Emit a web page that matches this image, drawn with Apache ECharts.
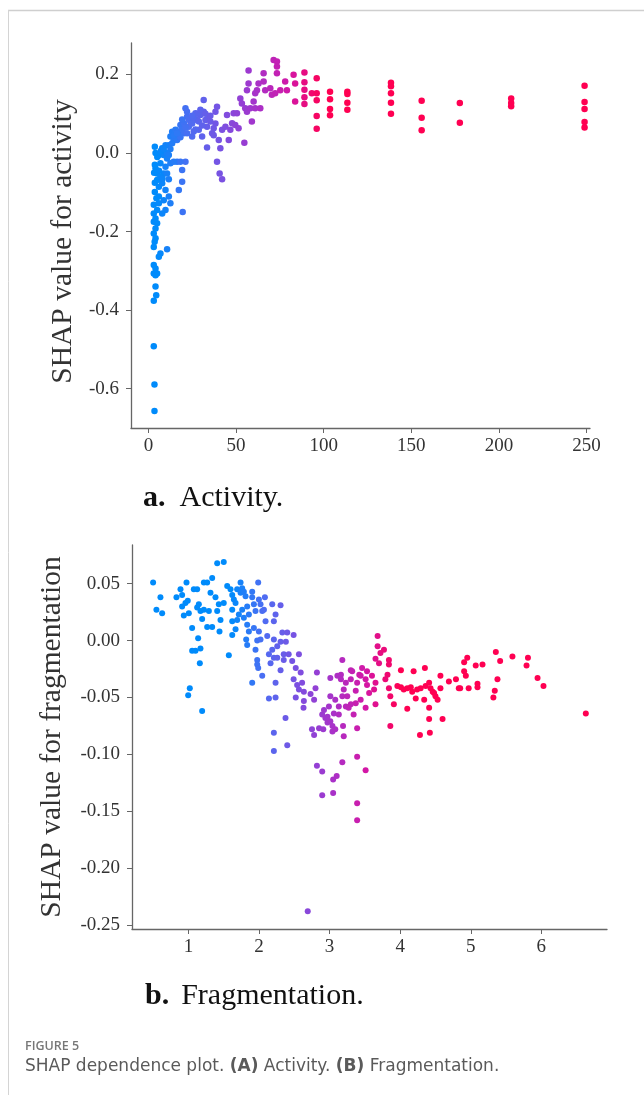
<!DOCTYPE html>
<html>
<head>
<meta charset="utf-8">
<script src="https://cdn.jsdelivr.net/npm/echarts@6/dist/echarts.min.js"></script>
<style>
html,body{margin:0;padding:0;background:#fff;}
#c{width:644px;height:1095px;}
</style>
</head>
<body>
<div id="c"></div>
<script>
// ---------- data ----------
// Panel a: [activity, SHAP value for activity]
const activityPoints = [
 [3.0,-0.132],[5.9,-0.128],[12.5,-0.128],[9.7,-0.145],[7.8,-0.154],[4.9,-0.145],[19.5,-0.15],[3.0,-0.154],
 [4.0,-0.167],[3.0,-0.175],[4.9,-0.179],[4.0,-0.192],[3.0,-0.205],[4.0,-0.217],[3.5,-0.226],[3.0,-0.239],
 [10.6,-0.245],[6.8,-0.256],[5.9,-0.264],[3.0,-0.285],[4.0,-0.294],[3.0,-0.307],[4.9,-0.307],[4.0,-0.311],
 [4.0,-0.34],[4.4,-0.362],[3.0,-0.376],[3.0,-0.492],[3.4,-0.589],[3.4,-0.657],
 [3.6,0.016],[7.8,0.012],[5.9,-0.005],[8.7,-0.005],[10.6,-0.014],[4.0,-0.039],[6.8,-0.026],[9.7,-0.035],
 [12.5,-0.026],[16.3,-0.022],[21.1,-0.022],[18.2,-0.022],[14.4,-0.022],[4.9,-0.052],[8.7,-0.052],[10.6,-0.052],
 [11.6,-0.067],[19.2,-0.043],[19.2,-0.073],[17.3,-0.094],[3.6,-0.076],[5.9,-0.086],[7.8,-0.077],[9.7,-0.094],
 [11.6,-0.111],[8.7,-0.12],[5.9,-0.111],[3.6,-0.099],[4.9,-0.069],[6.8,-0.06],[3.6,-0.03],[5.0,-0.01],
 [4.0,0.0],[7.0,0.005],[6.0,-0.045],[8.0,-0.065],[4.5,-0.115],[3.2,-0.05],
 [12.5,0.042],[13.5,0.054],[15.4,0.059],[14.4,0.033],[17.3,0.046],[16.3,0.033],[18.2,0.071],[20.2,0.076],
 [21.1,0.114],[22,0.092],[23,0.067],[23.9,0.08],[24.9,0.042],[26.8,0.101],[27.7,0.084],[28.7,0.059],
 [29.6,0.097],[30.6,0.042],[31.5,0.135],[31.5,0.105],[32.5,0.084],[33.4,0.067],[33.4,0.014],[34.4,0.092],
 [35.3,0.08],[36.3,0.05],[37.2,0.063],[38.2,0.105],[39.1,0.118],[40.1,0.033],[39.1,-0.022],[40.6,-0.052],
 [42,-0.067],[41,0.012],[42,0.059],[43.9,0.067],[44.8,0.097],[45.8,0.033],[47.7,0.076],[48.6,0.101],
 [50.5,0.101],[49.5,0.071],[51.4,0.063],[54.7,0.026],[46.7,0.059],[52.4,0.139],[53.3,0.126],[57.1,0.21],
 [57.1,0.177],[56.2,0.16],[55.2,0.114],[56.2,0.105],[58.1,0.114],[59,0.08],[60,0.131],[60.9,0.152],
 [60.9,0.114],[61.9,0.16],[62.8,0.177],[63.8,0.114],[65.7,0.182],[65.7,0.203],[66.6,0.16],[69.5,0.165],
 [70.4,0.148],[71.4,0.237],[73.3,0.233],[73.3,0.22],[73.3,0.203],[72.3,0.152],[75.2,0.16],[78,0.182],
 [79,0.16],[82.8,0.199],[83.7,0.177],[83.7,0.131],
 [11.6,0.02],[13.5,0.025],[15.4,0.04],[17.3,0.055],[19.2,0.06],[20.2,0.05],[21.1,0.065],[22,0.05],
 [23,0.085],[24.9,0.075],[25.8,0.09],[26.8,0.06],[27.7,0.1],[28.7,0.08],[30.6,0.07],[29.6,0.11],
 [25.8,0.055],[18.2,0.04],[14.4,0.045],[12.5,0.01],[10.6,0.0],[9.7,0.02],[8.7,0.01],[11.6,-0.005],
 [16.3,0.05],[19.2,0.085],[22,0.105],[24.9,0.095],[32.5,0.1],[35.3,0.095],[37.2,0.045],[38.2,0.075],
 [89,0.205],[89,0.18],[89,0.161],[89,0.142],[89,0.125],[93.2,0.152],[96,0.19],[96,0.152],
 [96,0.134],[96,0.094],[96,0.062],[103.6,0.156],[103.6,0.137],[103.6,0.112],[103.6,0.096],[113.5,0.156],
 [113.5,0.15],[113.5,0.128],[113.5,0.11],[138.4,0.179],[138.4,0.17],[138.4,0.152],[138.4,0.128],[138.4,0.1],
 [155.9,0.133],[155.9,0.09],[155.9,0.058],[177.7,0.127],[177.7,0.077],[207,0.139],[207,0.127],[207,0.119],
 [248.9,0.171],[248.9,0.13],[248.9,0.112],[248.9,0.079],[248.9,0.065]
];

// Panel b: [fragmentation, SHAP value for fragmentation]
const fragmentationPoints = [
 [0.499,0.051],[0.546,0.027],[0.603,0.038],[0.627,0.024],[0.83,0.038],[0.887,0.045],[0.91,0.04],[0.972,0.051],
 [0.91,0.03],[0.934,0.022],[0.957,0.033],[0.99,0.035],[1.005,0.024],[1.052,0.011],[1.076,0.045],[1.123,0.045],
 [1.123,0.029],[1.147,0.032],[1.17,0.026],[1.194,0.019],[1.218,0.051],[1.265,0.051],[1.336,0.055],[1.218,0.027],
 [1.289,0.026],[1.312,0.042],[1.265,0.012],[1.336,0.012],[1.407,0.068],[1.5,0.069],[1.383,0.038],[1.43,0.032],
 [1.407,0.026],[1.454,0.018],[1.44,0.008],[1.5,0.033],[1.549,0.048],[1.596,0.045],[1.572,-0.013],[1.052,-0.009],
 [1.1,-0.009],[1.137,0.002],[1.17,-0.007],[1.161,-0.02],[1.019,-0.042],[0.996,-0.048],[1.194,-0.062],[1.62,0.04],
 [1.643,0.036],[1.667,0.033],[1.62,0.027],[1.62,0.017],[1.667,0.01],[1.62,0.005],[1.69,0.045],[1.738,0.051],
 [1.761,0.046],[1.738,0.042],[1.785,0.043],[1.809,0.039],[1.832,0.03],[1.761,0.027],[1.714,0.023],[1.785,0.02],
 [1.856,0.023],[1.69,0.018],[1.832,0.014],[1.903,0.043],[1.903,0.038],[1.927,0.032],[1.95,0.026],[1.856,0.008],
 [1.818,0.001],[1.832,-0.004],[1.988,0.051],[1.927,0.011],[1.998,0.008],[1.974,0.0],[1.95,-0.008],[2.021,0.001],
 [1.974,-0.017],[1.974,-0.021],[1.988,-0.024],[2.045,-0.031],[1.903,-0.037],[1.998,0.036],[2.021,0.032],[2.045,0.026],
 [2.069,0.027],[2.083,0.038],[2.092,0.017],[2.116,0.004],[2.14,-0.012],[2.163,-0.02],[2.187,0.032],[2.21,0.017],
 [2.234,0.023],[2.21,0.001],[2.187,-0.008],[2.21,-0.015],[2.258,-0.005],[2.258,-0.015],[2.234,-0.037],[2.234,-0.05],
 [2.14,-0.051],[2.21,-0.081],[2.21,-0.097],
 [2.305,0.031],[2.33,0.007],[2.4,0.007],[2.49,0.005],[2.305,-0.001],[2.38,-0.001],[2.35,-0.012],[2.42,-0.012],
 [2.565,-0.012],[2.35,-0.017],[2.47,-0.018],[2.52,-0.024],[2.305,-0.026],[2.59,-0.028],[2.49,-0.034],[2.54,-0.039],
 [2.61,-0.037],[2.565,-0.043],[2.635,-0.045],[2.52,-0.05],[2.635,-0.053],[2.73,-0.047],[2.8,-0.042],[2.78,-0.052],
 [2.63,-0.059],[2.375,-0.068],[2.4,-0.092],
 [2.75,-0.078],[2.78,-0.083],[2.85,-0.077],[2.91,-0.078],[3.04,-0.08],[2.895,-0.065],[2.94,-0.068],[2.97,-0.072],
 [2.92,-0.061],[2.99,-0.058],[2.82,-0.028],[3.01,-0.033],[3.01,-0.049],[2.97,-0.067],[3.01,-0.071],[3.04,-0.075],
 [3.08,-0.078],[3.06,-0.064],[3.13,-0.065],[3.16,-0.03],[3.16,-0.034],[3.11,-0.031],[3.18,-0.017],[3.08,-0.052],
 [3.13,-0.058],[3.18,-0.049],[3.2,-0.043],[3.23,-0.037],[3.19,-0.075],[3.2,-0.084],[3.23,-0.058],[3.27,-0.059],
 [3.25,-0.049],[3.3,-0.034],[3.3,-0.026],[3.32,-0.027],[3.3,-0.056],[3.34,-0.065],[3.37,-0.044],[3.37,-0.055],
 [3.39,-0.077],[3.39,-0.037],[3.42,-0.03],[3.44,-0.031],[3.44,-0.052],[3.46,-0.024],[3.51,-0.034],[3.53,-0.027],
 [3.53,-0.039],[3.56,-0.046],[3.51,-0.059],[3.6,-0.031],[3.63,-0.043],[3.65,-0.037],[3.65,-0.056],[3.65,-0.016],
 [3.68,0.004],[3.68,-0.005],[3.72,-0.011],[3.77,-0.008],[3.7,-0.02],[3.84,-0.017],[3.84,-0.021],[3.79,-0.034],
 [3.82,-0.03],[3.84,-0.042],[3.86,-0.049],[3.91,-0.056],[3.86,-0.075],[4.01,-0.026],[3.96,-0.04],[4.01,-0.041],
 [4.05,-0.043],[4.1,-0.042],[4.1,-0.06],[4.15,-0.041],[4.17,-0.045],[4.19,-0.027],[4.22,-0.051],[4.24,-0.043],
 [4.28,-0.083],[4.29,-0.042],[4.34,-0.052],[4.35,-0.024],[4.36,-0.04],[4.41,-0.037],[4.41,-0.059],[4.41,-0.069],
 [4.42,-0.081],[4.43,-0.042],[4.46,-0.045],[4.48,-0.046],[4.5,-0.049],[4.53,-0.052],[4.57,-0.031],[4.57,-0.042],
 [4.6,-0.069],[4.69,-0.036],[4.79,-0.034],[4.83,-0.042],
 [2.82,-0.11],[2.895,-0.115],[3.05,-0.122],[3.1,-0.119],[3.18,-0.107],[3.39,-0.102],[3.51,-0.114],[2.895,-0.136],
 [3.05,-0.134],[3.39,-0.143],[3.39,-0.158],[2.69,-0.238],
 [4.906,-0.019],[4.95,-0.015],[4.906,-0.027],[4.93,-0.031],[4.85,-0.042],[4.97,-0.042],[5.07,-0.022],[5.166,-0.021],
 [5.095,-0.038],[5.095,-0.041],[5.355,-0.01],[5.416,-0.018],[5.378,-0.034],[5.34,-0.044],[5.32,-0.05],[5.59,-0.014],
 [5.81,-0.015],[5.79,-0.022],[5.946,-0.033],[6.03,-0.04],[6.63,-0.064]
];

const activityXTicks = [0, 50, 100, 150, 200, 250];
const activityYTicks = [-0.6, -0.4, -0.2, 0.0, 0.2];
const fragXTicks = [1, 2, 3, 4, 5, 6];
const fragYTicks = [-0.25, -0.20, -0.15, -0.10, -0.05, 0.00, 0.05];

const shapColors = ['#008bfb', '#4f6cf2', '#7d4fe0', '#a832c9', '#d416a5', '#ff0052'];

// ---------- chart ----------
const chart = echarts.init(document.getElementById('c'), null, {renderer: 'canvas'});
const serif = 'Liberation Serif, Times New Roman, serif';
const axisCol = '#666';

function xAxisCfg(gridIndex, min, max, ticks, fmt) {
  return {
    type: 'value', gridIndex, min, max,
    axisLine: {show: true, onZero: false, lineStyle: {color: axisCol, width: 1.3}},
    axisTick: {show: true, length: 5, customValues: ticks, lineStyle: {color: axisCol}},
    axisLabel: {customValues: ticks, formatter: fmt, fontFamily: serif, fontSize: 19, color: '#333', margin: 9},
    splitLine: {show: false}
  };
}
function yAxisCfg(gridIndex, min, max, ticks, fmt, name, gap, pad) {
  return {
    type: 'value', gridIndex, min, max,
    name, nameLocation: 'middle', nameGap: gap, nameRotate: 90,
    nameTextStyle: {fontFamily: serif, fontSize: 29.5, color: '#333', padding: pad},
    axisLine: {show: true, onZero: false, lineStyle: {color: axisCol, width: 1.3}},
    axisTick: {show: true, length: 5, customValues: ticks, lineStyle: {color: axisCol}},
    axisLabel: {customValues: ticks, formatter: fmt, fontFamily: serif, fontSize: 19, color: '#333', margin: 12},
    splitLine: {show: false}
  };
}

chart.setOption({
  backgroundColor: '#fff',
  animation: false,
  grid: [
    {left: 131, top: 43, width: 459, height: 385},
    {left: 132, top: 545, width: 475, height: 384}
  ],
  xAxis: [
    xAxisCfg(0, -10, 252, activityXTicks, v => String(Math.round(v))),
    xAxisCfg(1, 0.2, 6.93, fragXTicks, v => String(Math.round(v)))
  ],
  yAxis: [
    yAxisCfg(0, -0.70, 0.28, activityYTicks, v => v.toFixed(1), 'SHAP value for activity', 52, [0, 12, 0, 0]),
    yAxisCfg(1, -0.2535, 0.084, fragYTicks, v => v.toFixed(2), 'SHAP value for fragmentation', 65, [0, 0, 0, 0])
  ],
  visualMap: [
    {show: false, type: 'continuous', seriesIndex: 0, dimension: 0, min: 5, max: 100, inRange: {color: shapColors}},
    {show: false, type: 'continuous', seriesIndex: 1, dimension: 0, min: 1.6, max: 4.0, inRange: {color: shapColors}}
  ],
  series: [
    {type: 'scatter', xAxisIndex: 0, yAxisIndex: 0, data: activityPoints, symbolSize: 6.5, itemStyle: {opacity: 1}},
    {type: 'scatter', xAxisIndex: 1, yAxisIndex: 1, data: fragmentationPoints, symbolSize: 6, itemStyle: {opacity: 1}}
  ],
  graphic: [
    {type: 'line', shape: {x1: 8, y1: 10.5, x2: 644, y2: 10.5}, style: {stroke: '#cfcfcf', lineWidth: 1.5}, silent: true},
    {type: 'line', shape: {x1: 8.5, y1: 10, x2: 8.5, y2: 1095}, style: {stroke: '#d4d4d4', lineWidth: 1}, silent: true},
    {type: 'text', left: 143, top: 483, style: {
      text: '{b|a.}{n|Activity.}',
      rich: {b: {fontFamily: serif, fontWeight: 'bold', fontSize: 30, fill: '#111', padding: [0, 14, 0, 0]},
             n: {fontFamily: serif, fontSize: 30, fill: '#111'}}
    }},
    {type: 'text', left: 145, top: 981, style: {
      text: '{b|b.}{n|Fragmentation.}',
      rich: {b: {fontFamily: serif, fontWeight: 'bold', fontSize: 30, fill: '#111', padding: [0, 12, 0, 0]},
             n: {fontFamily: serif, fontSize: 30, fill: '#111'}}
    }},
    {type: 'text', left: 25, top: 1040, style: {
      text: 'FIGURE 5', fontFamily: 'Open Sans, Noto Sans, sans-serif', fontSize: 12.5, fontWeight: 600, fill: '#777'
    }},
    {type: 'text', left: 25, top: 1058, style: {
      text: '{n|SHAP dependence plot. }{b|(A)}{n| Activity. }{b|(B)}{n| Fragmentation.}',
      rich: {n: {fontFamily: 'DejaVu Sans, sans-serif', fontSize: 17, fill: '#5a5a5a'},
             b: {fontFamily: 'DejaVu Sans, sans-serif', fontSize: 17, fontWeight: 'bold', fill: '#5a5a5a'}}
    }}
  ]
});
</script>
</body>
</html>
